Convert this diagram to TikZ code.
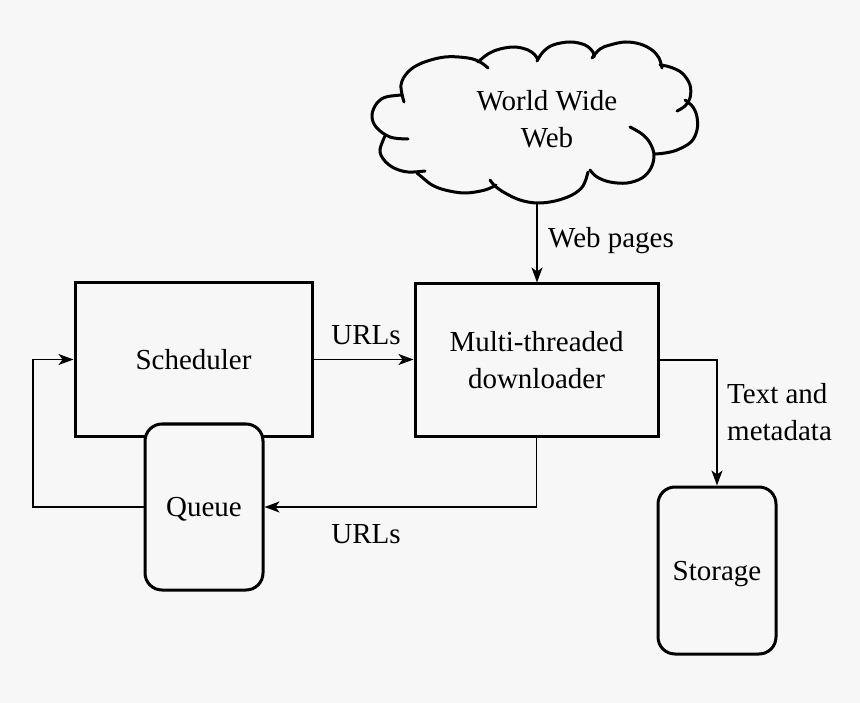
\documentclass[tikz,border=0pt]{standalone}
\usepackage{fontspec}
\setmainfont{Liberation Serif}
\usetikzlibrary{arrows.meta}
\definecolor{bg}{HTML}{F7F7F7}
\tikzset{
  txt/.style={font=\fontsize{29}{37}\selectfont,align=center,text depth=0pt},
  box/.style={txt,draw=black,line width=3pt,fill=bg,rectangle},
  rbox/.style={box,rounded corners=17pt},
  conn/.style={draw=black,line width=1.6pt,-{Stealth[length=15pt,width=11pt,inset=4pt]}},
  lbl/.style={font=\fontsize{29}{37}\selectfont,align=left,inner sep=0pt},
  puff/.style={draw=black,line width=3pt,line cap=round,smooth,tension=0.6},
}
\begin{document}
\begin{tikzpicture}[x=1pt,y=-1pt]
\fill[bg] (0,0) rectangle (860,703);
\useasboundingbox (0,0) rectangle (860,703);
% cloud outline
\draw[puff] plot coordinates {(408,139) (390,137) (376,127) (372,115) (377,103) (386,97) (402,95)};
\draw[puff] plot coordinates {(404,102) (401,85) (408,72) (422,63) (445,57) (468,58) (480,62) (488,68)};
\draw[puff] plot coordinates {(478,62) (488,54) (500,49) (515,47) (528,50) (535,55) (538,60)};
\draw[puff] plot coordinates {(537,61) (543,52) (553,45) (570,42) (585,45) (593,52) (594,57)};
\draw[puff] plot coordinates {(592,58) (600,49) (610,45) (625,42) (640,44) (652,50) (659,58) (662,68)};
\draw[puff] plot coordinates {(660,65) (670,67) (682,73) (690,85) (690,98) (685,106) (677,111)};
\draw[puff] plot coordinates {(685,100) (693,107) (697,117) (697,130) (691,142) (677,150) (665,153) (655,154)};
\draw[puff] plot coordinates {(630,127) (642,134) (650,143) (654,155) (651,168) (642,178) (627,183) (610,182) (597,177) (590,170)};
\draw[puff] plot coordinates {(588,172) (583,186) (572,195) (555,201) (537,203) (520,200) (505,193) (495,186) (490,180)};
\draw[puff] plot coordinates {(496,185) (485,190) (465,193) (445,190) (432,185) (423,178) (417,173)};
\draw[puff] plot coordinates {(425,171) (408,172) (394,168) (384,160) (380,150) (385,136)};
\node[txt] (web) at (547,118.5) {World Wide\\Web};
\coordinate (webbot) at (537,203);
% boxes
\node[box,minimum width=237pt,minimum height=153pt] (sched) at (193.5,359.5) {Scheduler};
\node[rbox,minimum width=118pt,minimum height=166pt] (queue) at (204,507) {Queue};
\node[box,minimum width=243pt,minimum height=152pt] (dl) at (536.5,360) {Multi-threaded\\downloader};
\node[rbox,minimum width=118pt,minimum height=167pt] (store) at (717,570.5) {Storage};
% labels
\node[lbl,anchor=base west] (lweb) at (548,248) {Web pages};
\node[lbl,anchor=base] (lurl1) at (366,345) {URLs};
\node[lbl,anchor=base] (lurl2) at (366,543) {URLs};
\node[lbl,anchor=west,text depth=0pt] (ltext) at (727,411.5) {Text and\\metadata};
% connectors
\draw[conn] (webbot) -- (webbot |- dl.north);
\draw[conn] (sched.east) -- (sched.east -| dl.west);
\coordinate (c1) at (dl.south |- queue.east);
\draw[conn] (dl.south) -- (c1) -- (queue.east);
\coordinate (c2) at (33,507);
\coordinate (c3) at (33,359.5);
\draw[conn] (queue.west) -- (c2) -- (c3) -- (sched.west);
\coordinate (c4) at (store.north |- dl.east);
\draw[conn] (dl.east) -- (c4) -- (store.north);
\end{tikzpicture}
\end{document}
